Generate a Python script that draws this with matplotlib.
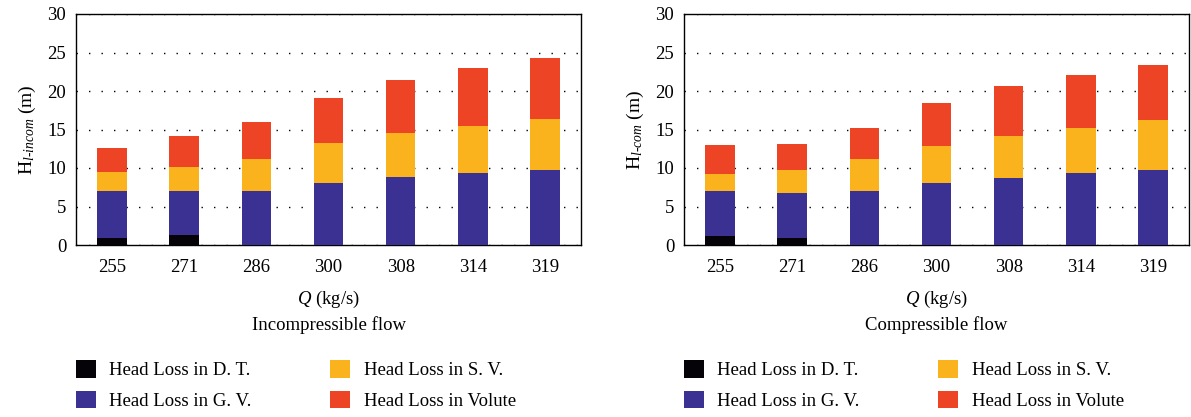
import matplotlib
matplotlib.use('Agg')
from matplotlib import pyplot as plt
from matplotlib.patches import Patch
import numpy as np

plt.rcParams['font.family'] = 'Liberation Serif'
plt.rcParams['mathtext.fontset'] = 'custom'
plt.rcParams['mathtext.rm'] = 'Liberation Serif'
plt.rcParams['mathtext.it'] = 'Liberation Serif:italic'
fs = 13.5

flow = ['255', '271', '286', '300', '308', '314', '319']
series = ['Head Loss in D. T.', 'Head Loss in G. V.', 'Head Loss in S. V.', 'Head Loss in Volute']
colors = ['#050308', '#3a3192', '#fbb31d', '#ee4426']

# cumulative tops: D.T., G.V., S.V., Volute
incom_dt = [0.95, 1.3, 0, 0, 0, 0, 0]
incom_gv = [6.95, 7.05, 7.0, 8.08, 8.81, 9.41, 9.8]
incom_sv = [9.45, 10.1, 11.2, 13.2, 14.52, 15.47, 16.33]
incom_vol = [12.65, 14.1, 15.95, 19.1, 21.4, 23.05, 24.3]

com_dt = [1.15, 0.95, 0, 0, 0, 0, 0]
com_gv = [7.0, 6.8, 7.05, 8.0, 8.64, 9.33, 9.8]
com_sv = [9.28, 9.75, 11.17, 12.89, 14.1, 15.17, 16.2]
com_vol = [13.0, 13.15, 15.2, 18.44, 20.67, 22.09, 23.42]

fig = plt.figure(figsize=(11.91, 4.17), dpi=100)
ax1 = fig.add_axes([76/1191, 172/417, 505/1191, 231/417])
ax2 = fig.add_axes([684/1191, 172/417, 505/1191, 231/417])


def draw(ax, tops, ylab, title):
    x = np.arange(len(flow))
    bottom = np.zeros(len(flow))
    for top, c in zip(tops, colors):
        top = np.array(top, dtype=float)
        h = np.where(top > 0, top - bottom, 0)
        ax.bar(x, h, bottom=bottom, width=0.41, color=c, zorder=3)
        bottom = np.where(top > 0, top, bottom)
    ax.set_xlim(-0.5, 6.5)
    ax.set_ylim(0, 30)
    ax.set_yticks(range(0, 31, 5))
    ax.set_xticks(x)
    ax.set_xticklabels(flow)
    ax.tick_params(length=0, labelsize=fs)
    ax.tick_params(axis='x', pad=10)
    ax.tick_params(axis='y', pad=7)
    ax.yaxis.grid(True, color='black', linestyle=(0, (1, 8)), linewidth=1)
    for s in ax.spines.values():
        s.set_linewidth(1)
    ax.set_ylabel(ylab, fontsize=fs + 0.5, labelpad=7)
    ax.set_xlabel(r'$Q$ (kg/s)', fontsize=fs, labelpad=9)
    ax.text(0.5, (417 - 325 - 172) / 231, title, transform=ax.transAxes,
            ha='center', va='center', fontsize=fs)


draw(ax1, [incom_dt, incom_gv, incom_sv, incom_vol], r'$\mathrm{H}_{\mathit{l\text{-}incom}}$ (m)', 'Incompressible flow')
draw(ax2, [com_dt, com_gv, com_sv, com_vol], r'$\mathrm{H}_{\mathit{l\text{-}com}}$ (m)', 'Compressible flow')

handles = [Patch(facecolor=c) for c in colors]
for left in [76, 684]:
    fig.legend(handles, series, ncol=2,
               loc='center left', bbox_to_anchor=(left/1191, 32/417),
               frameon=False, fontsize=fs, handlelength=1.07, handleheight=1.07,
               handletextpad=0.7, columnspacing=4.2, labelspacing=0.6,
               borderpad=0, borderaxespad=0)

plt.savefig('out.png', dpi=100)
